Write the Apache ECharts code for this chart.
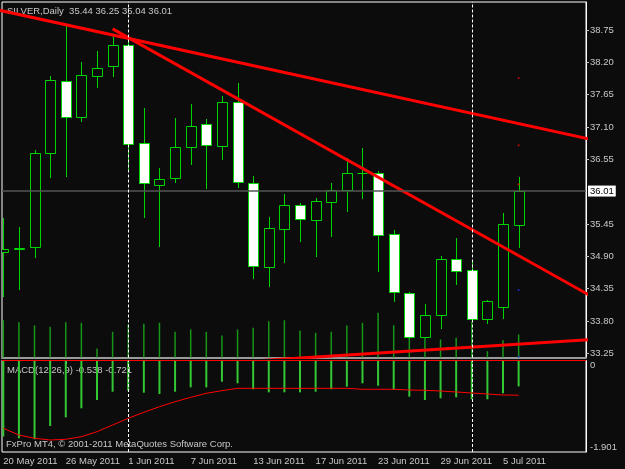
<!DOCTYPE html>
<html><head><meta charset="utf-8">
<script src="https://cdn.jsdelivr.net/npm/echarts@6/dist/echarts.min.js"></script>
<style>html,body{margin:0;padding:0;background:#0c0c0c}#c{width:625px;height:469px}</style>
</head><body><div id="c"></div>
<script>
// ---- data ----
const dates = ['20 May 2011','23 May 2011','24 May 2011','25 May 2011','26 May 2011','27 May 2011','30 May 2011','31 May 2011',
  '1 Jun 2011','2 Jun 2011','3 Jun 2011','6 Jun 2011','7 Jun 2011','8 Jun 2011','9 Jun 2011','10 Jun 2011',
  '13 Jun 2011','14 Jun 2011','15 Jun 2011','16 Jun 2011','17 Jun 2011','20 Jun 2011','21 Jun 2011','22 Jun 2011',
  '23 Jun 2011','24 Jun 2011','27 Jun 2011','28 Jun 2011','29 Jun 2011','30 Jun 2011','1 Jul 2011','4 Jul 2011',
  '5 Jul 2011','6 Jul 2011'];
const openP  = [34.97,35.03,35.05,36.65,37.88,37.27,37.96,38.13,38.49,36.82,36.12,36.23,36.76,37.15,36.78,37.53,
  36.15,34.72,35.37,35.77,35.51,35.83,36.03,36.31,36.31,35.28,34.27,33.53,33.91,34.85,34.67,33.83,34.03,35.44];
const highP  = [35.55,35.40,36.71,37.97,38.82,38.21,38.39,38.64,38.65,37.42,36.41,37.26,37.49,37.24,37.62,37.84,
  36.27,35.57,35.96,35.80,35.89,36.14,36.57,36.75,36.35,35.35,34.30,34.09,34.90,35.21,34.84,34.16,35.63,36.25];
const lowP   = [34.21,34.33,34.87,36.24,36.25,37.18,37.77,37.95,36.37,35.56,35.06,36.14,36.46,36.05,36.54,36.07,
  34.51,34.38,34.78,35.15,34.89,35.22,35.66,35.87,34.64,34.13,33.50,33.51,33.67,34.41,33.78,33.75,33.83,35.04];
const closeP = [35.03,35.04,36.65,37.90,37.27,37.98,38.10,38.49,36.81,36.14,36.21,36.76,37.12,36.79,37.53,36.16,
  34.74,35.39,35.77,35.53,35.84,36.02,36.32,36.31,35.26,34.29,33.53,33.90,34.85,34.65,33.83,34.14,35.45,36.01];
const volume = [37300,35300,32000,30700,35300,34700,9000,25700,33000,33700,34700,25700,28000,25700,22000,28000,
  29700,36300,37300,27000,24700,25700,32000,34700,44700,32300,20000,21000,18000,19700,36000,6300,17300,23000];
const macdHist = [-1.58,-1.616,-1.637,-1.361,-1.180,-0.993,-0.821,-0.648,-0.627,-0.669,-0.696,-0.648,-0.557,-0.557,-0.440,-0.474,
  -0.598,-0.661,-0.661,-0.661,-0.648,-0.598,-0.544,-0.474,-0.524,-0.613,-0.752,-0.821,-0.785,-0.765,-0.806,-0.806,-0.681,-0.538];
const macdSignal = [-1.409,-1.548,-1.616,-1.652,-1.637,-1.583,-1.479,-1.340,-1.201,-1.076,-0.960,-0.856,-0.765,-0.681,-0.627,-0.578,
  -0.578,-0.578,-0.578,-0.578,-0.578,-0.578,-0.578,-0.598,-0.598,-0.598,-0.613,-0.619,-0.634,-0.654,-0.675,-0.696,-0.717,-0.721];
const priceTicks = [38.75,38.20,37.65,37.10,36.55,35.45,34.90,34.35,33.80,33.25];
const macdTicks = [0,-1.901];
const dateTickIdx = [0,4,8,12,16,20,24,28,32];
const periodSeparators = [8,30];          // 1 Jun, 1 Jul
const trend1 = [[4,38.84],[34,37.10]];
const trend2 = [[7,38.77],[34,34.763]];
const trend3 = [[20,33.186],[34,33.421]];
const redDots = [[33,37.933],[33,36.788],[33,36.125]];
const blueDots = [[33,34.327],[33,33.192]];

// ---- chart ----
const GREEN = '#00d400';
const TXT = '#c8c8c8';
const FONT = 'Liberation Sans';
const FS = 9.5;
const last = closeP.length - 1;

function ray(a, b, x0, x1) {
  const k = (b[1]-a[1])/(b[0]-a[0]);
  return [[x0, a[1]+k*(x0-a[0])],[x1, a[1]+k*(x1-a[0])]];
}

const candleData = dates.map((d,i)=>[i, openP[i], closeP[i], lowP[i], highP[i]]);

function renderCandle(params, api) {
  const i = api.value(0), o = api.value(1), c = api.value(2), l = api.value(3), h = api.value(4);
  const px = api.coord([i, o]);
  const x = Math.round(px[0]) + 0.5;
  const yo = px[1], yc = api.coord([i, c])[1];
  const yl = api.coord([i, l])[1], yh = api.coord([i, h])[1];
  const top = Math.round(Math.min(yo, yc)) + 0.5, bot = Math.round(Math.max(yo, yc)) + 0.5;
  const children = [{type:'line', shape:{x1:x, y1:Math.round(yh), x2:x, y2:Math.round(yl)}, style:{stroke:GREEN, lineWidth:1}}];
  if (bot - top < 1) {
    children.push({type:'line', shape:{x1:x-5, y1:top, x2:x+5, y2:top}, style:{stroke:GREEN, lineWidth:1}});
  } else {
    children.push({type:'rect', shape:{x:x-5, y:top, width:10, height:bot-top},
      style:{fill: c >= o ? '#0c0c0c' : '#ffffff', stroke:GREEN, lineWidth:1}});
  }
  return {type:'group', children};
}

const XMIN = -0.0833, XMAX = 37.314;
const baseX = {type:'value', min:XMIN, max:XMAX, splitLine:{show:false}};
const gridCommon = {left:2, width:584, show:true, borderColor:'#ffffff', borderWidth:1, backgroundColor:'transparent', outerBoundsMode:'none', containLabel:false};

const chart = echarts.init(document.getElementById('c'));
chart.setOption({
  backgroundColor:'#0c0c0c',
  animation:false,
  textStyle:{fontFamily:FONT},
  grid:[
    Object.assign({top:2, height:355.5}, gridCommon),
    {left:2, width:584, top:290, height:67.5, show:false, outerBoundsMode:'none', containLabel:false},
    Object.assign({top:360.5, height:91.5}, gridCommon)
  ],
  xAxis:[
    Object.assign({gridIndex:0, axisLine:{show:true, lineStyle:{color:'#9a9a9a', width:2}}, axisTick:{show:false}, axisLabel:{show:false}}, baseX),
    Object.assign({gridIndex:1, show:false}, baseX),
    Object.assign({gridIndex:2,
      axisLine:{show:true, lineStyle:{color:'#a0a0a0', width:1}},
      axisTick:{show:true, inside:false, customValues:dateTickIdx, length:4, lineStyle:{color:'#a0a0a0'}},
      axisLabel:{show:true, customValues:dateTickIdx, formatter:v=>dates[Math.round(v)], align:'left', margin:4,
        color:TXT, fontSize:FS, fontFamily:FONT}}, baseX)
  ],
  yAxis:[
    {gridIndex:0, type:'value', position:'right', min:33.1785, max:39.2263, splitLine:{show:false},
      axisLine:{show:true, onZero:false, lineStyle:{color:'#ffffff', width:1}},
      axisTick:{show:true, inside:false, customValues:priceTicks, length:3, lineStyle:{color:TXT}},
      axisLabel:{show:true, customValues:priceTicks, formatter:v=>v.toFixed(2), margin:4, color:TXT, fontSize:FS, fontFamily:FONT}},
    {gridIndex:1, type:'value', min:0, max:67500, show:false, splitLine:{show:false}},
    {gridIndex:2, type:'value', position:'right', min:-1.901, max:0, splitLine:{show:false},
      axisLine:{show:true, onZero:false, lineStyle:{color:'#ffffff', width:1}},
      axisTick:{show:false},
      axisLabel:{show:true, customValues:macdTicks, formatter:v=>(v===0?'0':v.toFixed(3)), margin:4, color:TXT, fontSize:FS, fontFamily:FONT,
        verticalAlignMaxLabel:'bottom', verticalAlignMinLabel:'top'}}
  ],
  graphic:[
    {type:'text', left:7, top:6, z:1, style:{text:`SILVER,Daily  ${openP[last].toFixed(2)} ${highP[last].toFixed(2)} ${lowP[last].toFixed(2)} ${closeP[last].toFixed(2)}`, fill:TXT, font:`${FS}px "${FONT}"`}},
    {type:'text', left:7, top:365, z:1, style:{text:`MACD(12,26,9) ${macdHist[last].toFixed(3)} ${macdSignal[last].toFixed(3)}`, fill:TXT, font:`${FS}px "${FONT}"`}},
    {type:'text', left:6, top:439, z:1, style:{text:'FxPro MT4, © 2001-2011 MetaQuotes Software Corp.', fill:TXT, font:`${FS}px "${FONT}"`}}
  ],
  series:[
    {name:'Volume', type:'bar', xAxisIndex:1, yAxisIndex:1, barWidth:1.5, z:1,
      itemStyle:{color:'#179517'}, data:volume.map((v,i)=>[i,v]), silent:true},
    {name:'SILVER', type:'custom', xAxisIndex:0, yAxisIndex:0, clip:true, z:2, renderItem:renderCandle,
      encode:{x:0, y:[1,2,3,4]}, data:candleData, silent:true},
    {name:'Trend 1', type:'line', xAxisIndex:0, yAxisIndex:0, z:4, symbol:'none', clip:true,
      lineStyle:{color:'#ff0000', width:3}, data:ray(trend1[0], trend1[1], -1, 40),
      markLine:{silent:true, symbol:['none','none'], animation:false,
        data:[
          {yAxis:closeP[last], lineStyle:{color:'#555555', width:1.5, type:'solid'},
            label:{show:true, position:'end', distance:2, formatter:closeP[last].toFixed(2), backgroundColor:'#ffffff',
              color:'#000000', padding:[1,2,0,2], fontSize:FS, fontFamily:FONT}},
          ...periodSeparators.map(p=>({xAxis:p, lineStyle:{color:'#ffffff', width:1, type:[3,2]}, label:{show:false}}))
        ]}},
    {name:'Trend 2', type:'line', xAxisIndex:0, yAxisIndex:0, z:4, symbol:'none', clip:true,
      lineStyle:{color:'#ff0000', width:3}, data:ray(trend2[0], trend2[1], trend2[0][0], 40)},
    {name:'Trend 3', type:'line', xAxisIndex:0, yAxisIndex:0, z:4, symbol:'none', clip:true,
      lineStyle:{color:'#ff0000', width:3}, data:ray(trend3[0], trend3[1], -1, 40)},
    {name:'Red marks', type:'scatter', xAxisIndex:0, yAxisIndex:0, symbolSize:2, itemStyle:{color:'#ff0000'}, data:redDots, z:5},
    {name:'Blue marks', type:'scatter', xAxisIndex:0, yAxisIndex:0, symbolSize:2, itemStyle:{color:'#2030ff'}, data:blueDots, z:5},
    {name:'MACD', type:'bar', xAxisIndex:2, yAxisIndex:2, barWidth:2, z:2, itemStyle:{color:'#34c834'},
      data:macdHist.map((v,i)=>[i,v]), silent:true},
    {name:'Signal', type:'line', xAxisIndex:2, yAxisIndex:2, z:3, symbol:'none', lineStyle:{color:'#ff0000', width:1},
      data:macdSignal.map((v,i)=>[i,v]),
      markLine:{silent:true, symbol:['none','none'], animation:false,
        data:[
          {yAxis:0, lineStyle:{color:'#ff0000', width:1, type:'solid'}, label:{show:false}},
          ...periodSeparators.map(p=>({xAxis:p, lineStyle:{color:'#ffffff', width:1, type:[3,2]}, label:{show:false}}))
        ]}}
  ]
});
</script>
</body></html>
